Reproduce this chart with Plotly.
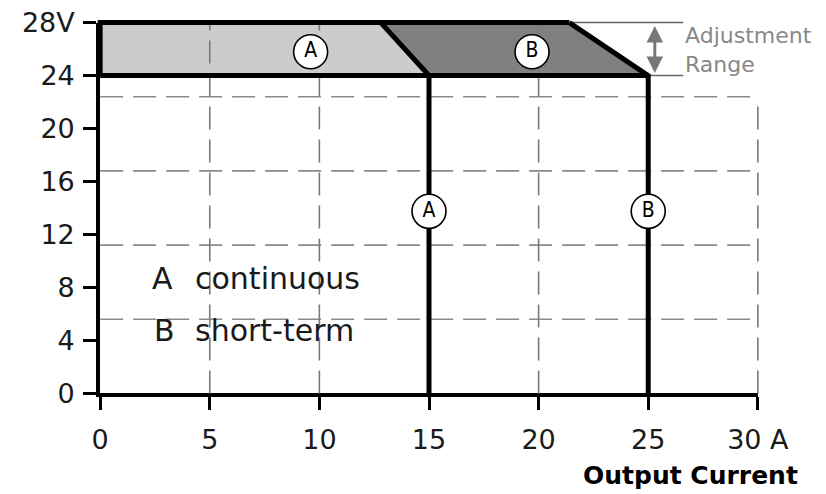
import plotly.graph_objects as go

# ---- data ----
x_ticks = [0, 5, 10, 15, 20, 25, 30]
x_ticktext = ["0", "5", "10", "15", "20", "25", "30 A"]
y_ticks = [0, 4, 8, 12, 16, 20, 24, 28]
y_ticktext = ["0", "4", "8", "12", "16", "20", "24", "28V"]

v_min = 24.0          # lower end of adjustment range
v_max = 28.0          # upper end of adjustment range
a_knee = 12.8         # continuous: current where power limit starts at 28V
a_limit = 15.0        # continuous current limit
b_knee = 21.4         # short-term: current where power limit starts at 28V
b_limit = 25.0        # short-term current limit
adj_end = 26.6        # end of the adjustment-range marker lines
adj_arrow_x = 25.3
adj_arrow_lo = 24.2
adj_arrow_hi = 27.85

hgrid_y = [5.6, 11.2, 16.8, 22.4]
vgrid_x = [5, 10, 20, 30]
vgrid_top = [28, 28, 28, 22.4]

circle_labels = ["A", "B", "A", "B"]
circle_x = [9.6, 19.7, 15, 25]
circle_y = [25.8, 25.8, 13.75, 13.75]

legend_keys = ["A", "B"]
legend_texts = ["continuous", "short-term"]
legend_key_x = [2.28, 2.37]
legend_text_x = 4.24
legend_y = [8.7, 4.75]

# ---- layout geometry ----
W, H = 826, 494
ML, MR, MT, MB = 87, 55, 12, 90
XPAD, YPAD = 0.6, 0.8
FONT = "DejaVu Sans, Liberation Sans, Arial, sans-serif"

fig = go.Figure()

# shaded regions (on the main axes)
fig.add_trace(go.Scatter(x=[0, 0, a_knee, a_limit, 0], y=[v_min, v_max, v_max, v_min, v_min],
                         mode="lines", fill="toself", fillcolor="#cccccc",
                         line=dict(width=0), hoverinfo="skip", showlegend=False))
fig.add_trace(go.Scatter(x=[a_knee, b_knee, b_limit, a_limit, a_knee],
                         y=[v_max, v_max, v_min, v_min, v_max],
                         mode="lines", fill="toself", fillcolor="#808080",
                         line=dict(width=0), hoverinfo="skip", showlegend=False))

def add(xs, ys, **kw):
    fig.add_trace(go.Scatter(x=xs, y=ys, xaxis="x2", yaxis="y2",
                             hoverinfo="skip", showlegend=False, **kw))

# grid lines
for gy in hgrid_y:
    add([0, 30], [gy, gy], mode="lines",
        line=dict(color="#8a8a8a", width=1.6, dash="23px,10px"))
for gx, gt in zip(vgrid_x, vgrid_top):
    add([gx, gx], [0, gt], mode="lines",
        line=dict(color="#7a7a7a", width=1.6, dash="23px,10px"))

# adjustment range thin lines
add([b_knee, adj_end], [v_max, v_max], mode="lines", line=dict(color="#666666", width=1.5))
add([b_limit, adj_end], [v_min, v_min], mode="lines", line=dict(color="#666666", width=1.5))

# thick characteristic lines
thick = dict(color="black", width=5)
add([0, 0, b_knee], [v_min, v_max, v_max], mode="lines", line=thick)
add([0, b_limit], [v_min, v_min], mode="lines", line=thick)
add([a_knee, a_limit, a_limit], [v_max, v_min, 0], mode="lines", line=thick)
add([b_knee, b_limit, b_limit], [v_max, v_min, 0], mode="lines", line=thick)

# circled labels
add(circle_x, circle_y, mode="markers+text", text=circle_labels,
    textposition="middle center",
    textfont=dict(family="Liberation Sans Narrow, DejaVu Sans Condensed, sans-serif",
                  size=21, color="black"),
    marker=dict(symbol="circle", size=34, color="white",
                line=dict(color="black", width=1.6)), cliponaxis=False)

annotations = []
for k, t, kx, ly in zip(legend_keys, legend_texts, legend_key_x, legend_y):
    annotations.append(dict(x=kx, y=ly, xref="x2", yref="y2", text=k, showarrow=False,
                            xanchor="left", yanchor="middle",
                            font=dict(family=FONT, size=30, color="#1a1a1a")))
    annotations.append(dict(x=legend_text_x, y=ly, xref="x2", yref="y2", text=t,
                            showarrow=False, xanchor="left", yanchor="middle",
                            font=dict(family=FONT, size=30, color="#1a1a1a")))

annotations.append(dict(x=adj_end, y=25.95, xref="x2", yref="y2", text="Adjustment<br>Range",
                        showarrow=False, xanchor="left", yanchor="middle", align="left",
                        font=dict(family=FONT, size=22, color="#888888")))
annotations.append(dict(x=adj_arrow_x, y=adj_arrow_lo, ax=adj_arrow_x, ay=adj_arrow_hi,
                        xref="x2", yref="y2", axref="x2", ayref="y2", text="",
                        showarrow=True, arrowhead=2, startarrowhead=2,
                        arrowside="end+start", arrowsize=1.1, arrowwidth=3,
                        arrowcolor="#777777", standoff=0, startstandoff=0))
pw, ph = W - ML - MR, H - MT - MB
annotations.append(dict(x=(800 - ML) / pw, y=(H - MB - 475) / ph, xref="paper", yref="paper",
                        text="<b>Output Current</b>",
                        showarrow=False, xanchor="right", yanchor="middle",
                        font=dict(family=FONT, size=25, color="black")))

xdom = [XPAD / (30 + 2 * XPAD), (30 + XPAD) / (30 + 2 * XPAD)]
ydom = [YPAD / (28 + 2 * YPAD), (28 + YPAD) / (28 + 2 * YPAD)]

axis_common = dict(showgrid=False, zeroline=False, showline=True, linewidth=4,
                   linecolor="black", ticks="outside", ticklen=13, tickwidth=3,
                   tickcolor="black", tickfont=dict(family=FONT, size=27, color="#1a1a1a"),
                   fixedrange=True, automargin=False)

fig.update_layout(
    width=W, height=H,
    margin=dict(l=ML, r=MR, t=MT, b=MB, pad=0, autoexpand=False),
    paper_bgcolor="white", plot_bgcolor="rgba(0,0,0,0)",
    showlegend=False,
    xaxis=dict(range=[0, 30], domain=xdom, anchor="y", tickmode="array",
               tickvals=x_ticks, ticktext=x_ticktext, ticklabelstandoff=6, **axis_common),
    yaxis=dict(range=[0, 28], domain=ydom, anchor="x", tickmode="array",
               tickvals=y_ticks, ticktext=y_ticktext, ticklabelstandoff=3, **axis_common),
    xaxis2=dict(range=[-XPAD, 30 + XPAD], domain=[0, 1], anchor="y2", visible=False,
                fixedrange=True, automargin=False),
    yaxis2=dict(range=[-YPAD, 28 + YPAD], domain=[0, 1], anchor="x2", visible=False,
                fixedrange=True, automargin=False),
    annotations=annotations,
)

fig.write_html("out.html", post_script="document.body.style.margin='0px';",
               config={"displayModeBar": False})
